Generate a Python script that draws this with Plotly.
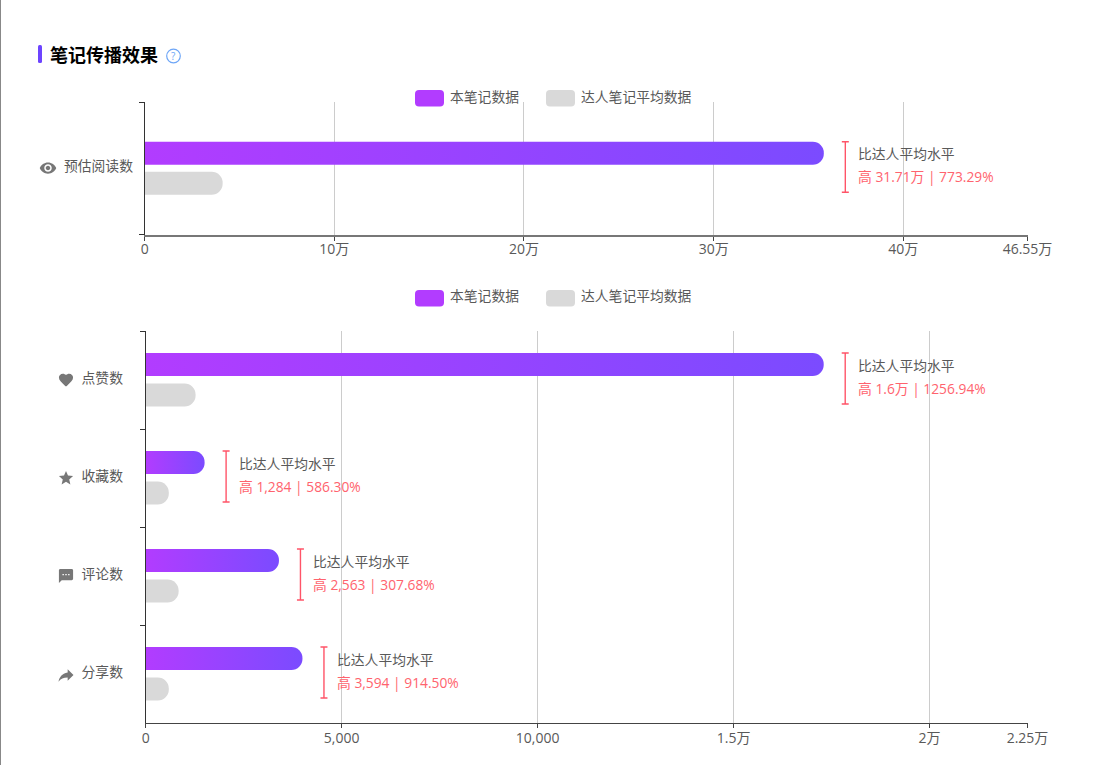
import plotly.graph_objects as go
from urllib.parse import quote

W, H = 1102, 765
FONT = "Open Sans, Noto Sans CJK SC"

# ---- data ----
reach_cats = ["预估阅读数"]
reach_note = [358100]
reach_avg = [41100]
reach_ticks = [0, 100000, 200000, 300000, 400000, 465500]
reach_ticktext = ["0", "10万", "20万", "30万", "40万", "46.55万"]
reach_diff = ["高 31.71万 | 773.29%"]

eng_cats = ["点赞数", "收藏数", "评论数", "分享数"]
eng_note = [17300, 1503, 3400, 4000]
eng_avg = [1273, 590, 840, 590]
eng_ticks = [0, 5000, 10000, 15000, 20000, 22500]
eng_ticktext = ["0", "5,000", "10,000", "1.5万", "2万", "2.25万"]
eng_diff = ["高 1.6万 | 1256.94%", "高 1,284 | 586.30%", "高 2,563 | 307.68%", "高 3,594 | 914.50%"]

legend_labels = ["本笔记数据", "达人笔记平均数据"]
compare_label = "比达人平均水平"
title_text = "笔记传播效果"

# ---- colours ----
C_NOTE = "#b23cff"
C_NOTE_END = "#7b4bff"
C_AVG = "#d9d9d9"
C_TEXT = "#595959"
C_RED = "#ff636e"
C_BRACKET = "#ff5468"
C_GRID = "#cccccc"


def px(x):
    return x / W


def py(y):
    return 1 - y / H


# plot areas in pixels
A1 = dict(l=144.7, r=1027.5, t=102, b=234.5)
A2 = dict(l=145.7, r=1027.5, t=331, b=723)

fig = go.Figure()


def add_pair(cats, note, avg, band_px, up, xa, ya):
    fig.add_bar(y=cats, x=note, orientation="h", xaxis=xa, yaxis=ya,
                marker=dict(color=C_NOTE, line_width=0),
                width=23 / band_px, offset=-up / band_px, hoverinfo="skip", showlegend=False)
    fig.add_bar(y=cats, x=avg, orientation="h", xaxis=xa, yaxis=ya,
                marker=dict(color=C_AVG, line_width=0),
                width=23 / band_px, offset=3.5 / band_px, hoverinfo="skip", showlegend=False)


add_pair(reach_cats, reach_note, reach_avg, A1["b"] - A1["t"], 26.5, "x", "y")
add_pair(eng_cats, eng_note, eng_avg, (A2["b"] - A2["t"]) / 4, 27, "x2", "y2")

shapes, annotations, images = [], [], []


def text(x, y, s, size=13.8, color=C_TEXT, anchor="left", bold=False):
    annotations.append(dict(xref="paper", yref="paper", x=px(x), y=py(y), text=f"<b>{s}</b>" if bold else s,
                            showarrow=False, xanchor=anchor, yanchor="middle",
                            font=dict(size=size, color=color, family=FONT)))


def round_rect(x0, y0, x1, y1, r, color):
    X0, X1, Y0, Y1 = px(x0), px(x1), py(y0), py(y1)
    rx, ry = r / W, r / H
    path = (f"M{X0+rx},{Y0} L{X1-rx},{Y0} Q{X1},{Y0} {X1},{Y0-ry} L{X1},{Y1+ry} Q{X1},{Y1} {X1-rx},{Y1} "
            f"L{X0+rx},{Y1} Q{X0},{Y1} {X0},{Y1+ry} L{X0},{Y0-ry} Q{X0},{Y0} {X0+rx},{Y0} Z")
    shapes.append(dict(type="path", xref="paper", yref="paper", path=path, fillcolor=color, line_width=0))


def legend_row(yc):
    round_rect(415, yc - 8, 444, yc + 8.5, 4, C_NOTE)
    text(448, yc - 2, legend_labels[0])
    round_rect(546, yc - 8, 575, yc + 8.5, 4, C_AVG)
    text(579, yc - 2, legend_labels[1])


legend_row(98)
legend_row(298)


def compare_marks(cats, note, diff, xa, ya, up, down, line1, line2):
    for i, (cat, v, d) in enumerate(zip(cats, note, diff)):
        shapes.append(dict(type="path", xref=xa, yref=ya, xsizemode="pixel", ysizemode="pixel",
                           xanchor=v, yanchor=i,
                           path=f"M18,{up} L25,{up} M21.5,{up} L21.5,{-down} M18,{-down} L25,{-down}",
                           line=dict(color=C_BRACKET, width=1.4)))
        for s, shift, col in ((compare_label, line1, C_TEXT), (d, line2, C_RED)):
            annotations.append(dict(xref=xa, yref=ya, x=v, y=cat, xshift=32.5, yshift=shift, text=s,
                                    showarrow=False, xanchor="left", yanchor="middle",
                                    font=dict(size=13.8, color=col, family=FONT)))


compare_marks(reach_cats, reach_note, reach_diff, "x", "y", 26.5, 24, 15, -8)
compare_marks(eng_cats, eng_note, eng_diff, "x2", "y2", 27, 24, 15, -8)

# heading
round_rect(38, 45, 42, 63, 1.5, "#6d44ff")
text(48, 55, title_text, size=18, color="#000000", bold=True)
shapes.append(dict(type="circle", xref="paper", yref="paper", x0=px(166.7), x1=px(180.3), y0=py(62.8), y1=py(49.2),
                   line=dict(color="#6ea6f7", width=1.2), fillcolor="rgba(0,0,0,0)"))
text(173.5, 56, "?", size=10, color="#6ea6f7", anchor="center")

# left page edge
shapes.append(dict(type="line", xref="paper", yref="paper", x0=px(0.5), x1=px(0.5), y0=0, y1=1,
                   line=dict(color="#888888", width=1)))

ICONS = [
    (48, 168, 18, "M12 4.5C7 4.5 2.73 7.61 1 12c1.73 4.39 6 7.5 11 7.5s9.27-3.11 11-7.5c-1.73-4.39-6-7.5-11-7.5zM12 17c-2.76 0-5-2.24-5-5s2.24-5 5-5 5 2.24 5 5-2.24 5-5 5zm0-8c-1.66 0-3 1.34-3 3s1.34 3 3 3 3-1.34 3-3-1.34-3-3-3z"),
    (66, 380, 17, "M12 21.35l-1.45-1.32C5.4 15.36 2 12.28 2 8.5 2 5.42 4.42 3 7.5 3c1.74 0 3.41.81 4.5 2.09C13.09 3.81 14.76 3 16.5 3 19.58 3 22 5.42 22 8.5c0 3.78-3.4 6.86-8.55 11.54L12 21.35z"),
    (66, 478, 17, "M12 17.27L18.18 21l-1.64-7.03L22 9.24l-7.19-.61L12 2 9.19 8.63 2 9.24l5.46 4.73L5.82 21z"),
    (66, 576, 17, "M20 2H4c-1.1 0-2 .9-2 2v18l4-4h14c1.1 0 2-.9 2-2V4c0-1.1-.9-2-2-2zM9 11H7V9h2v2zm4 0h-2V9h2v2zm4 0h-2V9h2v2z"),
    (66, 675, 20, "M14 9V5l7 7-7 7v-4.1c-5 0-8.5 1.6-11 5.1 1-5 4-10 11-11z"),
]
for cx, cy, size, d in ICONS:
    svg = f'<svg xmlns="http://www.w3.org/2000/svg" viewBox="0 0 24 24" width="48" height="48"><path fill="#777777" d="{d}"/></svg>'
    images.append(dict(source="data:image/svg+xml," + quote(svg), xref="paper", yref="paper",
                       x=px(cx), y=py(cy), sizex=size / W, sizey=size / H, xanchor="center", yanchor="middle",
                       sizing="contain", layer="above"))


def xaxis(area, tickvals, ticktext, top, linecolor, linewidth, standoff):
    return dict(domain=[px(area["l"]), px(area["r"])], range=[0, top], tickmode="array",
                tickvals=tickvals, ticktext=ticktext, showgrid=True, gridcolor=C_GRID, gridwidth=1, zeroline=False,
                showline=True, linecolor=linecolor, linewidth=linewidth, ticks="outside", ticklen=4, tickcolor="#444444",
                ticklabelstandoff=standoff,
                tickfont=dict(size=14, color=C_TEXT, family=FONT), fixedrange=True)


def yaxis(area, cats, anchor, standoff):
    return dict(domain=[py(area["b"]), py(area["t"])], type="category", categoryorder="array", categoryarray=cats,
                range=[len(cats) - 0.5, -0.5], anchor=anchor, showgrid=False, zeroline=False, showline=True,
                linecolor="#333333", linewidth=1, ticks="outside", ticklen=5, tickcolor="#333333", tickson="boundaries",
                ticklabelstandoff=standoff, ticklabelshift=2,
                tickfont=dict(size=13.8, color=C_TEXT, family=FONT), fixedrange=True)


fig.update_layout(
    width=W, height=H, margin=dict(l=0, r=0, t=0, b=0, autoexpand=False), autosize=False,
    paper_bgcolor="#ffffff", plot_bgcolor="#ffffff", showlegend=False, barmode="overlay", barcornerradius=11.5,
    font=dict(family=FONT), shapes=shapes, annotations=annotations, images=images,
    xaxis=dict(**xaxis(A1, reach_ticks, reach_ticktext, 465500, "#777777", 2, -3), anchor="y"),
    yaxis=yaxis(A1, reach_cats, "x", 8),
    xaxis2=dict(**xaxis(A2, eng_ticks, eng_ticktext, 22500, "#444444", 1, -2), anchor="y2"),
    yaxis2=yaxis(A2, eng_cats, "x2", 19),
)

post = f"""
document.body.style.margin='0';
document.documentElement.style.overflow='hidden';
(function(){{
  var NS='http://www.w3.org/2000/svg';
  var svg=document.querySelector('.main-svg');
  var defs=svg.querySelector('defs');
  var g=document.createElementNS(NS,'linearGradient');
  g.setAttribute('id','noteBarGrad');
  g.setAttribute('x1','0');g.setAttribute('x2','1');g.setAttribute('y1','0');g.setAttribute('y2','0');
  [['0','{C_NOTE}'],['1','{C_NOTE_END}']].forEach(function(s){{
    var st=document.createElementNS(NS,'stop');
    st.setAttribute('offset',s[0]);st.setAttribute('stop-color',s[1]);g.appendChild(st);
  }});
  defs.appendChild(g);
  document.querySelectorAll('.barlayer .point path').forEach(function(p){{
    if(p.style.fill==='rgb(178, 60, 255)'){{p.style.fill='url(#noteBarGrad)';}}
  }});
}})();
"""
fig.write_html("out.html", post_script=post, config=dict(displayModeBar=False, responsive=False))
